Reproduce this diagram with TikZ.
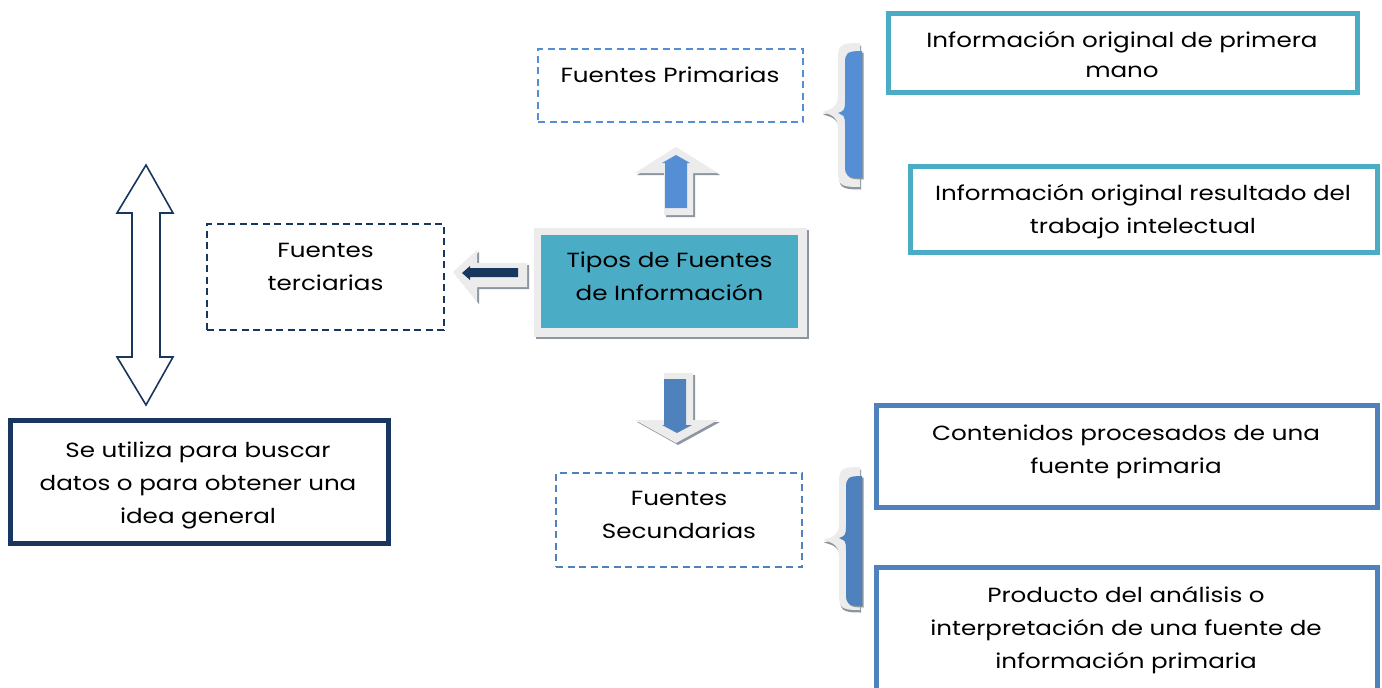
\documentclass[tikz,border=0pt]{standalone}
\usepackage{fontspec}
\setmainfont{Poppins}[FakeStretch=1.2]
\definecolor{navy}{HTML}{17375E}
\definecolor{teal}{HTML}{4BACC6}
\definecolor{bluea}{HTML}{4F81BD}
\definecolor{blueb}{HTML}{558ED5}
\definecolor{glow}{HTML}{ECECEC}
\definecolor{shade}{HTML}{8C96A0}
% #1 right x, #2 left x, #3 point x, #4 top y, #5 middle y, #6 bottom y, #7 corner radius
\newcommand{\bracepath}[7]{(#1,#4) .. controls ({#2+2},#4) and (#2,{#4+2}) .. (#2,{#4+#7}) -- (#2,{#5-#7}) .. controls (#2,{#5-3}) and ({#3+6},{#5-2}) .. (#3,#5) .. controls ({#3+6},{#5+2}) and (#2,{#5+3}) .. (#2,{#5+#7}) -- (#2,{#6-#7}) .. controls (#2,{#6-2}) and ({#2+2},#6) .. (#1,#6) -- cycle}
\tikzset{
  txt/.style={font=\fontsize{20.5}{33}\selectfont, align=center, inner sep=0pt, text=black},
  dashbox/.style={draw=#1, line width=2pt, dash pattern=on 7pt off 4.5pt, fill=white},
  solidbox/.style={draw=#1, line width=5pt, fill=white},
  shadowfill/.style={fill=shade},
  glowfill/.style={fill=glow},
}
\begin{document}
\begin{tikzpicture}[x=1pt,y=-1pt]
\useasboundingbox (0,0) rectangle (1382,688);
\fill[white] (0,0) rectangle (1382,688);

% ---------- top right boxes
\draw[solidbox=teal] (888,13) rectangle (1357,92);
\node[txt] (t1) at (1122,55) {Información original de primera\\[-3pt]mano};
\draw[solidbox=teal] (910,166) rectangle (1377,252);
\node[txt] (t2) at (1143,212) {Información original resultado del\\trabajo intelectual};

% ---------- bottom right boxes
\draw[solidbox=bluea] (876,405) rectangle (1377,507);
\node[txt] (t3) at (1126,452) {Contenidos procesados de una\\fuente primaria};
\draw[solidbox=bluea] (876,567) rectangle (1377,700);
\node[txt] (t4) at (1126,630) {Producto del análisis o\\interpretación de una fuente de\\información primaria};

% ---------- dashed boxes
\node[dashbox=blueb, minimum width=265pt, minimum height=73pt] (prim) at (670.5,85.5) {};
\node[txt] (primt) at (670,75) {Fuentes Primarias};
\node[dashbox=bluea, minimum width=246pt, minimum height=94pt] (sec) at (679,520) {};
\node[txt] (sect) at (679,515) {Fuentes\\Secundarias};
\node[dashbox=navy, minimum width=237pt, minimum height=106pt] (ter) at (325.5,277) {};
\node[txt] (tert) at (325.5,267) {Fuentes\\terciarias};

% ---------- left box
\draw[solidbox=navy] (10,420.5) rectangle (388,543);
\node[txt] (t5) at (198,485) {Se utiliza para buscar\\datos o para obtener una\\idea general};

% ---------- double arrow
\draw[navy, line width=1.6pt, fill=white, line join=miter]
  (146,165) -- (173,213) -- (160,213) -- (160,357) -- (173,357) -- (146,405)
  -- (117,357) -- (132,357) -- (132,213) -- (117,213) -- cycle;

% ---------- central box
\fill[shadowfill] (536,230) rectangle (809,339);
\fill[glowfill] (534,228) rectangle (807,337);
\fill[teal] (541,235) rectangle (798,328);
\node[txt] (center) at (669.5,276) {Tipos de Fuentes\\de Información};

% ---------- up arrow
\begin{scope}[shift={(2,2)}]
\fill[shadowfill] (664,215) -- (664,173) -- (635,173) -- (676,147) -- (718,173) -- (693,173) -- (693,215) -- cycle;
\end{scope}
\fill[glowfill] (664,215) -- (664,173) -- (635,173) -- (676,147) -- (718,173) -- (693,173) -- (693,215) -- cycle;
\fill[blueb] (665,208) -- (665,163) -- (662,163) -- (676,155) -- (690,163) -- (687,163) -- (687,208) -- cycle;

% ---------- down arrow
\begin{scope}[shift={(2,2)}]
\fill[shadowfill] (664,373) -- (693,373) -- (693,420) -- (718,420) -- (676,443) -- (635,420) -- (664,420) -- cycle;
\end{scope}
\fill[glowfill] (664,373) -- (693,373) -- (693,420) -- (718,420) -- (676,443) -- (635,420) -- (664,420) -- cycle;
\fill[bluea] (664,379) -- (686,379) -- (686,425) -- (692,425) -- (677,433) -- (662,425) -- (664,425) -- cycle;

% ---------- left arrow
\begin{scope}[shift={(2,2)}]
\fill[shadowfill] (527,263) -- (477,263) -- (477,250) -- (453,272) -- (477,302) -- (477,287) -- (527,287) -- cycle;
\end{scope}
\fill[glowfill] (527,263) -- (477,263) -- (477,250) -- (453,272) -- (477,302) -- (477,287) -- (527,287) -- cycle;
\fill[navy] (518,268) -- (470,268) -- (470,266) -- (462,273) -- (470,280) -- (470,277) -- (518,277) -- cycle;

% ---------- braces
\begin{scope}[shift={(1,2.5)}]
\fill[shadowfill] \bracepath{860}{838}{822}{43}{112}{187}{16};
\end{scope}
\fill[glowfill] \bracepath{860}{838}{822}{43}{112}{187}{16};
\fill[shadowfill] \bracepath{863.5}{846.5}{839.5}{52.5}{114}{179.5}{12};
\fill[blueb] \bracepath{862}{845}{838}{51}{113}{178}{12};

\begin{scope}[shift={(1,2.5)}]
\fill[shadowfill] \bracepath{860}{839}{823}{467}{540}{610}{16};
\end{scope}
\fill[glowfill] \bracepath{860}{839}{823}{467}{540}{610}{16};
\fill[shadowfill] \bracepath{863.5}{847.5}{840.5}{477.5}{539}{607.5}{12};
\fill[bluea] \bracepath{862}{846}{839}{476}{538}{606}{12};
\end{tikzpicture}
\end{document}
